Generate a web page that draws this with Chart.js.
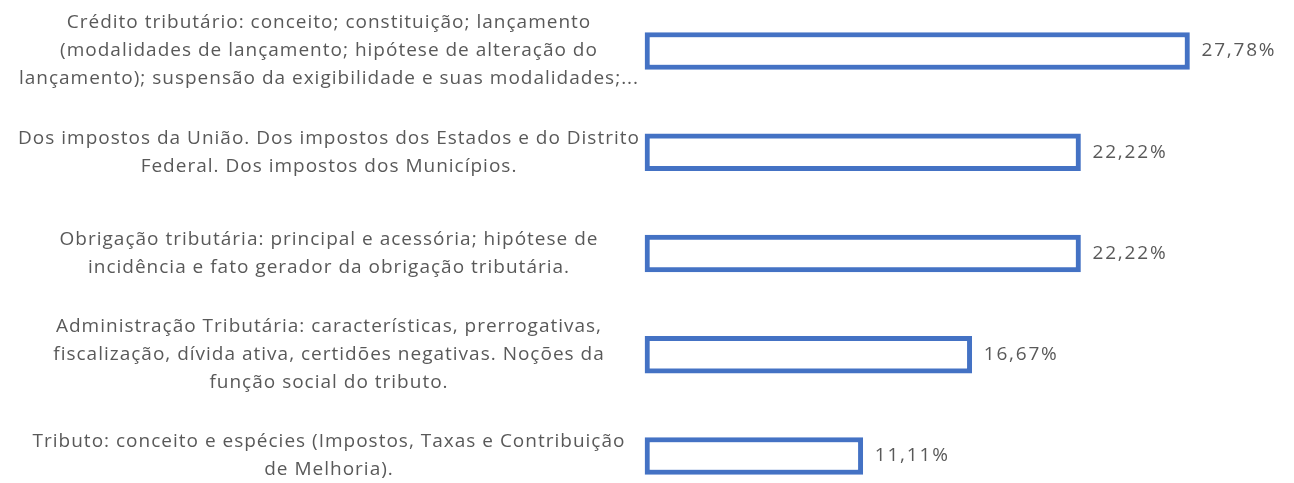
<!DOCTYPE html>
<html>
<head>
<meta charset="utf-8">
<script src="https://cdn.jsdelivr.net/npm/chart.js@4.4.1/dist/chart.umd.min.js"></script>
<style>
  html, body { margin: 0; padding: 0; background: #fff; }
  #wrap { width: 1294px; height: 483px; position: relative; }
</style>
</head>
<body>
<div id="wrap"><canvas id="topicChart"></canvas></div>
<script>
const topics = [
  ['Crédito tributário: conceito; constituição; lançamento',
   '(modalidades de lançamento; hipótese de alteração do',
   'lançamento); suspensão da exigibilidade e suas modalidades;...'],
  ['Dos impostos da União. Dos impostos dos Estados e do Distrito',
   'Federal. Dos impostos dos Municípios.'],
  ['Obrigação tributária: principal e acessória; hipótese de',
   'incidência e fato gerador da obrigação tributária.'],
  ['Administração Tributária: características, prerrogativas,',
   'fiscalização, dívida ativa, certidões negativas. Noções da',
   'função social do tributo.'],
  ['Tributo: conceito e espécies (Impostos, Taxas e Contribuição',
   'de Melhoria).'],
];
const shares = [27.78, 22.22, 22.22, 16.67, 11.11];

(function () {
  const textColor = '#595959';
  const barBlue = '#4472C4';
  const fontFamily = "'Open Sans', sans-serif";
  const fontSize = 19;
  const spacing = '1px';

  const axisWidth = 645;
  const labelCenter = 329;

  // measure the widest label line so the centred block lands where we want it
  const m = document.createElement('canvas').getContext('2d');
  m.font = fontSize + 'px ' + fontFamily;
  m.letterSpacing = spacing;
  let widest = 0;
  topics.forEach((lines) => lines.forEach((l) => {
    widest = Math.max(widest, m.measureText(l).width);
  }));
  const tickPad = Math.max(0, axisWidth - labelCenter - widest / 2);

  const fmt = (v) => v.toFixed(2).replace('.', ',') + '%';

  // the reference text is spaced out a little, canvas can do that
  const letterSpacing = {
    id: 'letterSpacing',
    beforeUpdate(chart) { chart.ctx.letterSpacing = spacing; },
    beforeDraw(chart) { chart.ctx.letterSpacing = spacing; },
  };

  const valueLabels = {
    id: 'valueLabels',
    afterDatasetsDraw(chart) {
      const ctx = chart.ctx;
      const meta = chart.getDatasetMeta(0);
      ctx.save();
      ctx.font = '19px ' + fontFamily;
      ctx.letterSpacing = '1.8px';
      ctx.fillStyle = textColor;
      ctx.textAlign = 'left';
      ctx.textBaseline = 'middle';
      meta.data.forEach((bar, i) => {
        ctx.fillText(fmt(shares[i]), bar.x + 12, bar.y);
      });
      ctx.restore();
    },
  };

  new Chart(document.getElementById('topicChart'), {
    type: 'bar',
    data: {
      labels: topics,
      datasets: [
        {
          data: shares,
          backgroundColor: '#ffffff',
          borderColor: barBlue,
          borderWidth: 5,
          borderSkipped: false,
          barThickness: 37,
          clip: false,
        },
      ],
    },
    options: {
      indexAxis: 'y',
      responsive: true,
      maintainAspectRatio: false,
      animation: false,
      layout: { padding: { top: 51, bottom: 27, right: 61, left: 0 } },
      plugins: {
        legend: { display: false },
        tooltip: { enabled: false },
      },
      scales: {
        x: { display: false, min: 0, max: 30 },
        y: {
          offset: false,
          grid: { display: false, drawTicks: false, offset: false },
          border: { display: false },
          ticks: {
            crossAlign: 'center',
            padding: tickPad,
            color: textColor,
            font: { family: fontFamily, size: fontSize, lineHeight: 28 / fontSize },
          },
          afterFit(scale) {
            scale.width = axisWidth;
            scale.paddingTop = 0;
            scale.paddingBottom = 0;
          },
        },
      },
    },
    plugins: [letterSpacing, valueLabels],
  });
})();
</script>
</body>
</html>
